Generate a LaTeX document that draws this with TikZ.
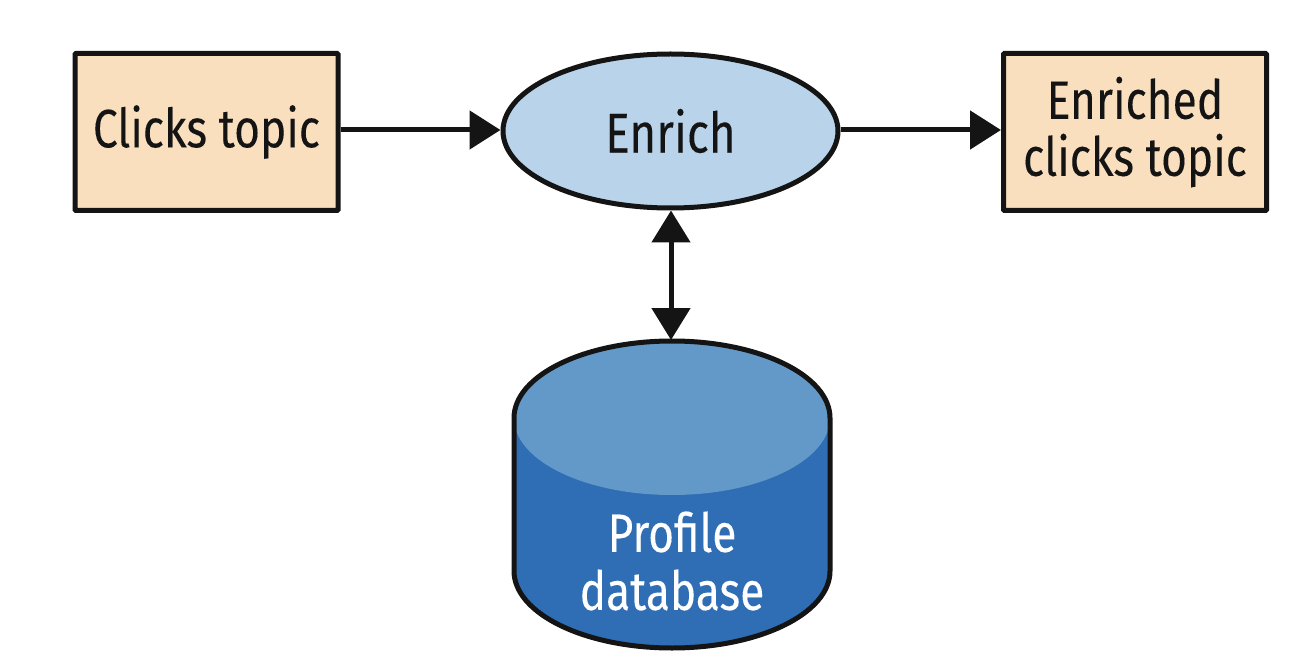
\documentclass[tikz,border=0pt]{standalone}
\usepackage{fontspec}
\setmainfont{Fira Sans}[FakeStretch=0.82,FakeBold=0.12]
\usetikzlibrary{arrows.meta,shapes.geometric}
\definecolor{peach}{RGB}{249,223,190}
\definecolor{lightblue}{RGB}{184,211,234}
\definecolor{captop}{RGB}{99,153,201}
\definecolor{capbody}{RGB}{47,109,180}
\definecolor{ink}{RGB}{20,20,20}
\tikzset{
  topicbox/.style={draw=ink, line width=5pt, fill=peach, rectangle,
    minimum width=263pt, minimum height=157pt, inner sep=0pt, align=center,
    font=\fontsize{54}{57}\selectfont, text=ink, rounded corners=1pt},
  procnode/.style={draw=ink, line width=5pt, fill=lightblue, ellipse,
    minimum width=335pt, minimum height=154pt, inner sep=0pt,
    font=\fontsize{56}{60}\selectfont, text=ink},
  dbtext/.style={align=center, text=white, inner sep=0pt,
    font=\fontsize{54}{58}\selectfont},
  flow/.style={draw=ink, line width=5pt, -{Triangle[length=31pt,width=38pt]}},
  biflow/.style={draw=ink, line width=5pt,
    {Triangle[length=32pt,width=38pt]}-{Triangle[length=32pt,width=38pt]}},
}
\begin{document}
\begin{tikzpicture}[x=1pt,y=-1pt]
\useasboundingbox (0,0) rectangle (1298,660);
\node[topicbox] (clicks) at (206.5,132) {Clicks topic};
\node[procnode] (enrich) at (670.5,131) {Enrich};
\node[topicbox] (enriched) at (1135,132) {Enriched\\clicks topic};
% cylinder
\fill[capbody] (514,418) -- (514,571)
  arc[start angle=180,end angle=360,x radius=158pt,y radius=77pt]
  -- (830,418) arc[start angle=0,end angle=180,x radius=158pt,y radius=77pt] -- cycle;
\fill[captop] (672,418) ellipse[x radius=158pt,y radius=77pt];
\draw[ink, line width=5pt, line join=round] (514,418) -- (514,571)
  arc[start angle=180,end angle=360,x radius=158pt,y radius=77pt]
  -- (830,418) arc[start angle=0,end angle=180,x radius=158pt,y radius=77pt] -- cycle;
\coordinate (dbtop) at (671,340);
\node[dbtext] (db) at (672,561) {Profile\\database};
% connectors
\draw[flow] (clicks.east |- 0,130) -- (enrich.west |- 0,130);
\draw[flow] (enrich.east |- 0,130) -- (enriched.west |- 0,130);
\draw[biflow] (enrich.south -| dbtop) -- (dbtop);
\end{tikzpicture}
\end{document}
